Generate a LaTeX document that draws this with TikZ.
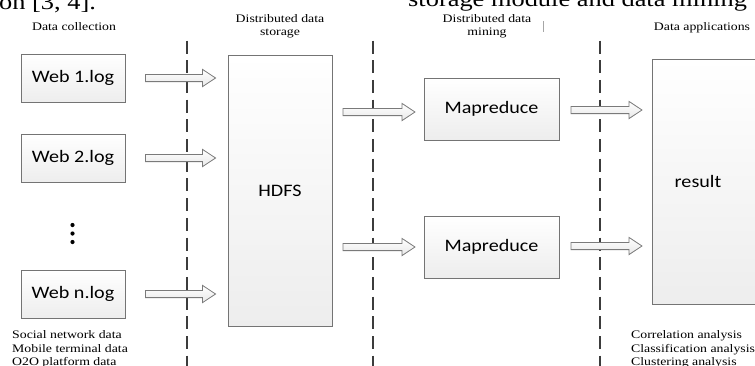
\documentclass[tikz,border=0pt]{standalone}
\usepackage{fontspec}
\setmainfont{Liberation Serif}[FakeStretch=1.2]
\newfontfamily\boxfont{Carlito}[FakeStretch=1.15]
\usetikzlibrary{calc,shadows}
\definecolor{boxgray}{HTML}{747474}
\definecolor{divgray}{HTML}{3C3C3C}
\definecolor{arrgray}{HTML}{7A7A7A}
\newcommand\blockarrow[2]{%
  \path[blockarr] let \p1=(#1), \p2=(#2) in
    (\x1,\y1+3.6pt) -- (\x2-13pt,\y1+3.6pt) -- (\x2-13pt,\y1+8.6pt) -- (\x2,\y1)
    -- (\x2-13pt,\y1-8.6pt) -- (\x2-13pt,\y1-3.6pt) -- (\x1,\y1-3.6pt) -- cycle;}
\begin{document}
\begin{tikzpicture}[x=1pt,y=-1pt,
  box/.style={draw=boxgray, line width=0.9pt, top color=white, bottom color=black!7,
    drop shadow={shadow xshift=1.3pt, shadow yshift=-1.3pt, fill=black!35, opacity=0.45},
    inner sep=0pt, font=\boxfont\fontsize{17.5}{20}\selectfont},
  boxtext/.style={inner sep=0pt, font=\boxfont\fontsize{17.5}{20}\selectfont},
  lbl/.style={inner sep=0pt, font=\fontsize{11.5}{13}\selectfont},
  big/.style={inner sep=0pt, font=\fontsize{22}{24}\selectfont},
  divider/.style={draw=divgray, line width=2.2pt, dash pattern=on 13pt off 6.7pt},
  blockarr/.style={draw=arrgray, line width=0.8pt, top color=white, bottom color=black!9}
]
\useasboundingbox (0,0) rectangle (755,365);
\clip (0,0) rectangle (755,365);

% clipped running text of the page
\node[big, anchor=base west] (ptxt1) at (-1,9) {on [3, 4].};
\node[big, anchor=base west] (ptxt2) at (408,6.5) {storage module and data mining};
\coordinate (markt) at (543,21);
\coordinate (markb) at (543,32);
\draw[black!35, line width=0.4pt] (markt) -- (markb);

% column headings
\node[lbl, anchor=base] (h1) at (74,30) {Data collection};
\node[lbl, anchor=base] (h2a) at (280,22.5) {Distributed data};
\node[lbl, anchor=base] (h2b) at (280,35.5) {storage};
\node[lbl, anchor=base] (h3a) at (487,22.5) {Distributed data};
\node[lbl, anchor=base] (h3b) at (487,35.5) {mining};
\node[lbl, anchor=base] (h4) at (702,30) {Data applications};

% dashed dividers
\coordinate (d1t) at (187,40.5); \coordinate (d1b) at (187,370);
\coordinate (d2t) at (373,40.5); \coordinate (d2b) at (373,370);
\coordinate (d3t) at (600,40.5); \coordinate (d3b) at (600,370);
\draw[divider] (d1t) -- (d1b);
\draw[divider] (d2t) -- (d2b);
\draw[divider] (d3t) -- (d3b);

% boxes
\node[box, minimum width=104pt, minimum height=48pt] (web1) at (73,78) {Web 1.log};
\node[box, minimum width=104pt, minimum height=48pt] (web2) at (73,158) {Web 2.log};
\node[box, minimum width=104pt, minimum height=48pt] (webn) at (73,294) {Web n.log};
\fill (72.5,225) circle (2.1);
\fill (72.5,233.5) circle (2.1);
\fill (72.5,242) circle (2.1);

\node[box, minimum width=104pt, minimum height=271pt] (hdfs) at (280,190.5) {HDFS};
\node[box, minimum width=135pt, minimum height=62pt] (map1) at (491.5,109) {Mapreduce};
\node[box, minimum width=135pt, minimum height=62pt] (map2) at (491.5,247) {Mapreduce};
\node[box, minimum width=120pt, minimum height=245pt] (res) at (712,181.5) {};
\node[boxtext] (restext) at (698,181) {result};

% block arrows
\coordinate (a1s) at ($(web1.east)+(20,0)$);
\coordinate (a1e) at ($(hdfs.west |- web1.east)+(-12,0)$);
\coordinate (a2s) at ($(web2.east)+(20,0)$);
\coordinate (a2e) at ($(hdfs.west |- web2.east)+(-12,0)$);
\coordinate (a3s) at ($(webn.east)+(20,0)$);
\coordinate (a3e) at ($(hdfs.west |- webn.east)+(-12,0)$);
\blockarrow{a1s}{a1e}
\blockarrow{a2s}{a2e}
\blockarrow{a3s}{a3e}

\coordinate (b1s) at (343,112); \coordinate (b1e) at (415,112);
\coordinate (b2s) at (343,247); \coordinate (b2e) at (415,247);
\blockarrow{b1s}{b1e}
\blockarrow{b2s}{b2e}

\coordinate (c1s) at (571,110); \coordinate (c1e) at (642,110);
\coordinate (c2s) at (571,246); \coordinate (c2e) at (642,246);
\blockarrow{c1s}{c1e}
\blockarrow{c2s}{c2e}

% source / application lists
\node[lbl, anchor=base west] (s1) at (12,338.5) {Social network data};
\node[lbl, anchor=base west] (s2) at (12,352) {Mobile terminal data};
\node[lbl, anchor=base west] (s3) at (12,365.5) {O2O platform data};
\node[lbl, anchor=base west] (r1) at (631,338.5) {Correlation analysis};
\node[lbl, anchor=base west] (r2) at (631,352) {Classification analysis};
\node[lbl, anchor=base west] (r3) at (631,365.5) {Clustering analysis};
\end{tikzpicture}
\end{document}
